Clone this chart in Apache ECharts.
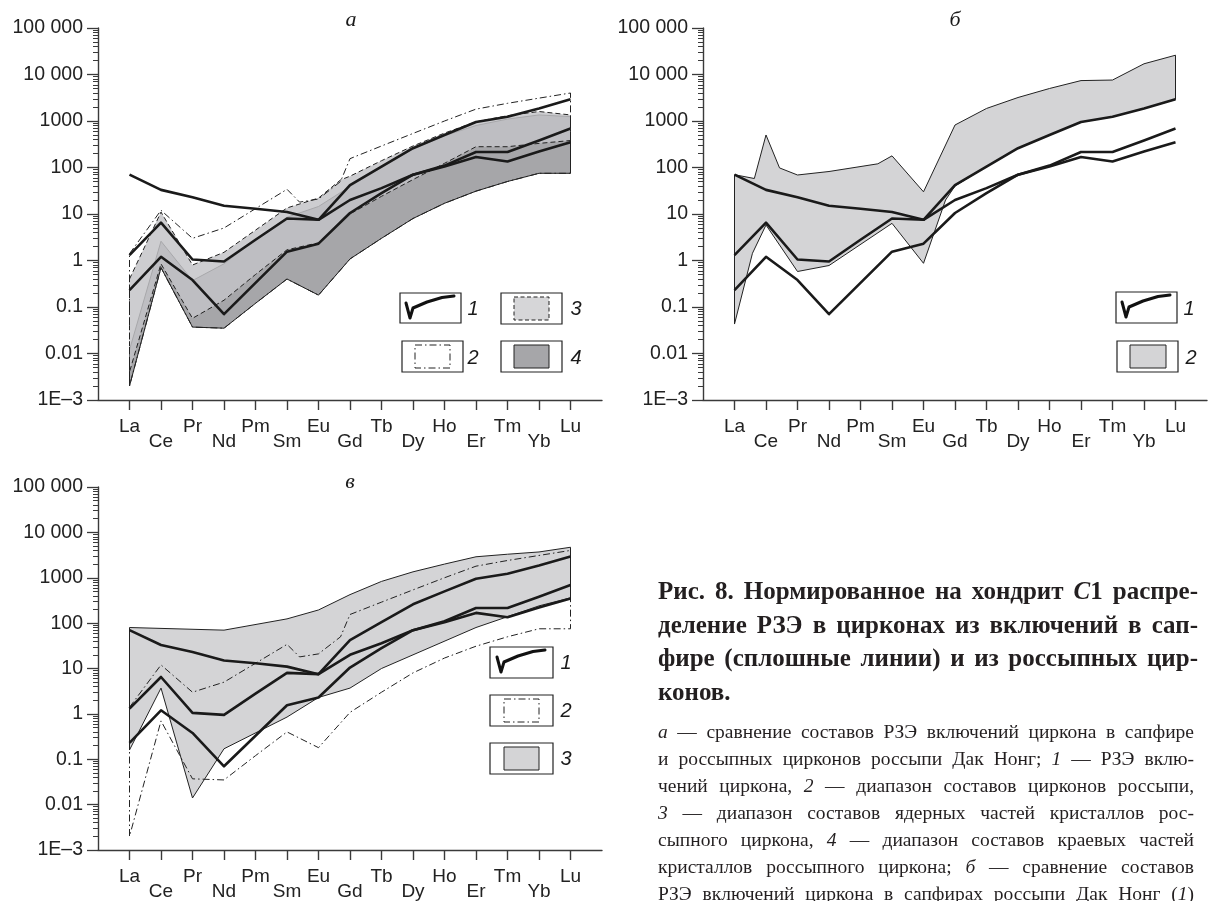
<!DOCTYPE html>
<html><head><meta charset="utf-8">
<script src="https://cdn.jsdelivr.net/npm/echarts@6/dist/echarts.min.js"></script>
<style>html,body{margin:0;padding:0;background:#fff}#c{width:1209px;height:901px}</style>
</head><body><div id="c"></div>
<script>
// ---------- DATA ----------
const elements = ['La','Ce','Pr','Nd','Pm','Sm','Eu','Gd','Tb','Dy','Ho','Er','Tm','Yb','Lu'];
const yTickValues = [0.001, 0.01, 0.1, 1, 10, 100, 1000, 10000, 100000];
const yTickLabels = ['1E–3', '0.01', '0.1', '1', '10', '100', '1000', '10 000', '100 000'];
const minorMultipliers = [2, 3, 4, 5, 6, 7, 8, 9];

// 1 — zircon inclusions in sapphire (solid lines), one value per element
const inclusion1 = [70, 33, 23, 15, 13, 11, 7.5, 42, 105, 260, 500, 950, 1230, 1860, 2950];
const inclusion2 = [1.3, 6.5, 1.05, 0.95, 2.8, 8, 7.5, 20, 36, 70, 110, 215, 215, 380, 690];
const inclusion3 = [0.23, 1.2, 0.38, 0.07, 0.33, 1.55, 2.3, 10.5, 28, 70, 105, 168, 135, 220, 350];

// ranges as [element position, value]
// placer zircons range (dash-dot)
const placerUpper = [[0,1.4],[1,12],[2,3],[3,5],[5,34],[5.4,18],[6,21],[6.7,50],[7,155],[8,290],[9,540],[10,1000],[11,1800],[12,2400],[13,3100],[14,4000]];
const placerLower = [[0,0.002],[1,0.7],[2,0.037],[3,0.035],[4,0.12],[5,0.4],[6,0.18],[7,1.08],[8,3],[9,8],[10,17],[11,31],[12,50],[13,75],[14,75]];
// panel а: cores (3, dashed light) and rims (4, dark)
const coresUpper = [[0,0.4],[1,11],[2,0.8],[3,1.5],[4,4.5],[5,13.5],[6,22],[6.7,54],[7,65],[8,140],[9,290],[10,550],[11,960],[12,1300],[13,1600],[14,1350]];
const coresLower = [[0,0.004],[1,0.85],[2,0.057],[3,0.14],[4,0.5],[5,1.7],[6,2.4],[7,10],[8,24],[9,55],[10,123],[11,280],[12,280],[13,330],[14,380]];
const rimsUpper = [[0,0.012],[1,2.6],[2,0.37],[3,0.85],[4,2.8],[5,8.5],[6,14.5],[7,39],[8,100],[9,250],[10,480],[11,800],[12,1100],[13,1350],[14,1240]];
const rimsLower = placerLower;
// panel б: placer zircons range (2)
const rangeBUpper = [[0,70],[0.63,58],[1,500],[1.43,98],[2,69],[3,82],[4.55,120],[5,178],[6,30],[7,820],[8,1860],[9,3200],[10,5000],[11,7400],[12,7600],[13,17000],[14,26000]];
const rangeBLower = [[0,0.043],[0.57,1.43],[1,5.8],[2,0.58],[3,0.78],[5,6.3],[6,0.87],[6.7,20],[7,40],[8,105],[9,260],[10,500],[11,950],[12,1230],[13,1860],[14,2900]];
// panel в: range 3 (gray)
const rangeVUpper = [[0,80],[3,70],[5,124],[6,195],[7,425],[8,830],[9,1350],[10,2000],[11,2900],[12,3300],[13,3700],[14,4700]];
const rangeVLower = [[0,0.16],[1,3.7],[2,0.014],[3,0.17],[5,0.85],[6,2.3],[7,3.7],[8,10],[9,20],[11,80],[13,240],[14,360]];

const titleLines = ['Рис. 8. Нормированное на хондрит _C_1 распре-','деление РЗЭ в цирконах из включений в сап-','фире (сплошные линии) и из россыпных цир-','конов.'];
const bodyLines = ['_а_ — сравнение составов РЗЭ включений циркона в сапфире','и россыпных цирконов россыпи Дак Нонг; _1_ — РЗЭ вклю-','чений циркона, _2_ — диапазон составов цирконов россыпи,','_3_ — диапазон составов ядерных частей кристаллов рос-','сыпного циркона, _4_ — диапазон составов краевых частей','кристаллов россыпного циркона; _б_ — сравнение составов','РЗЭ включений циркона в сапфирах россыпи Дак Нонг (_1_)'];

// ---------- LAYOUT / STYLE ----------
const AX = '#3a3a3a';
const SANS = '"Liberation Sans", Arial, sans-serif';
const SERIF = '"Liberation Serif", "Times New Roman", serif';
const grids = [
  {left: 98, top: 28, width: 504, height: 372},
  {left: 703, top: 28, width: 504, height: 372},
  {left: 98, top: 487, width: 504, height: 370}
];
const elemIdx = elements.map((e, i) => i);
const minorVals = [];
for (let e = -3; e < 5; e++) minorMultipliers.forEach(m => minorVals.push(+(m * Math.pow(10, e)).toPrecision(3)));

function yLabel(v) {
  const k = yTickValues.findIndex(t => Math.abs(Math.log10(t) - Math.log10(v)) < 1e-6);
  return k >= 0 ? yTickLabels[k] : '';
}
const xAxes = [], yAxes = [];
grids.forEach((g, i) => {
  xAxes.push({
    gridIndex: i, type: 'value', min: -1, max: 15,
    axisLine: {show: true, onZero: false, lineStyle: {color: AX, width: 1.4}},
    axisTick: {show: true, customValues: elemIdx, length: 10, lineStyle: {color: AX, width: 1.4}},
    axisLabel: {
      customValues: elemIdx, margin: 17,
      formatter: v => { const k = Math.round(v); if (k < 0 || k > 14) return ''; return (k % 2 === 0 ? '{u|' : '{d|') + elements[k] + '}'; },
      rich: {
        u: {fontSize: 19, fontFamily: SANS, color: '#222'},
        d: {fontSize: 19, fontFamily: SANS, color: '#222', padding: [15, 0, 0, 0]}
      }
    },
    splitLine: {show: false}
  });
  yAxes.push({
    gridIndex: i, type: 'log', logBase: 10, min: 0.001, max: 100000, position: 'left',
    axisLine: {show: true, onZero: false, lineStyle: {color: AX, width: 1.4}},
    axisTick: {show: true, customValues: yTickValues, length: 11, lineStyle: {color: AX, width: 1.3}},
    axisLabel: {customValues: yTickValues, formatter: yLabel, fontSize: 19.5, fontFamily: SANS, color: '#222', margin: 15},
    splitLine: {show: false}
  });
  yAxes.push({
    gridIndex: i, type: 'log', logBase: 10, min: 0.001, max: 100000, position: 'left', offset: 0,
    axisLine: {show: false, onZero: false},
    axisTick: {show: true, customValues: minorVals, length: 5, lineStyle: {color: AX, width: 1}},
    axisLabel: {show: false},
    splitLine: {show: false}
  });
});

function band(i, upper, lower, style, z) {
  return {
    type: 'custom', xAxisIndex: i, yAxisIndex: i * 2, z: z, silent: true,
    data: [[0, 1]],
    renderItem: (params, api) => {
      const pts = upper.concat(lower.slice().reverse()).map(p => api.coord(p));
      return {type: 'polygon', shape: {points: pts}, style: Object.assign({lineJoin: 'round'}, style)};
    }
  };
}
function incLine(i, vals) {
  return {
    type: 'line', xAxisIndex: i, yAxisIndex: i * 2, z: 10, silent: true,
    data: vals.map((v, k) => [k, v]), symbol: 'none',
    lineStyle: {color: '#1a1a1a', width: 2.6, join: 'round'}
  };
}
const DASHDOT = [7, 3, 1.5, 3];
const series = [];
// panel а
series.push(band(0, rimsUpper, rimsLower, {fill: '#a6a6a9', stroke: '#222', lineWidth: 1}, 1));
series.push(band(0, coresUpper, coresLower, {fill: 'rgba(195,195,198,0.83)', stroke: '#222', lineWidth: 1, lineDash: [5, 3]}, 2));
series.push(band(0, placerUpper, placerLower, {fill: 'none', stroke: '#222', lineWidth: 1, lineDash: DASHDOT}, 3));
// panel б
series.push(band(1, rangeBUpper, rangeBLower, {fill: '#d4d4d6', stroke: '#222', lineWidth: 1}, 1));
// panel в
series.push(band(2, rangeVUpper, rangeVLower, {fill: '#d4d4d6', stroke: '#222', lineWidth: 1}, 1));
series.push(band(2, placerUpper, placerLower, {fill: 'none', stroke: '#222', lineWidth: 1, lineDash: DASHDOT}, 3));
[0, 1, 2].forEach(i => [inclusion1, inclusion2, inclusion3].forEach(v => series.push(incLine(i, v))));

// ---------- GRAPHICS: panel letters, legends, caption ----------
const G = [];
function txt(x, y, text, font, align) {
  G.push({type: 'text', x: x, y: y, silent: true, style: {text: text, font: font, fill: '#1a1a1a', textAlign: align || 'center', textVerticalAlign: 'middle'}});
}
txt(351, 20, 'а', 'italic 22px ' + SERIF);
txt(955, 20, 'б', 'italic 22px ' + SERIF);
txt(350, 482, 'в', 'italic 22px ' + SERIF);

function box(x, y, w, h) { G.push({type: 'rect', silent: true, shape: {x: x, y: y, width: w, height: h}, style: {fill: '#fff', stroke: '#222', lineWidth: 1.2}}); }
function inner(x, y, w, h, fill, dash, lw) { G.push({type: 'rect', silent: true, shape: {x: x, y: y, width: w, height: h}, style: {fill: fill, stroke: '#222', lineWidth: lw || 1, lineDash: dash || null}}); }
function check(x, y) {
  G.push({type: 'polyline', silent: true, shape: {points: [[x + 6, y + 10], [x + 10, y + 25], [x + 13, y + 15], [x + 27, y + 9], [x + 42, y + 4.5], [x + 54, y + 3]]}, style: {fill: null, stroke: '#111', lineWidth: 3, lineJoin: 'round', lineCap: 'round'}});
}
const LEG = 'italic 20px ' + SANS;
// panel а legend
box(400, 293, 61, 30); check(400, 293); txt(473, 309, '1', LEG);
box(402, 341, 61, 31); inner(415, 345, 35, 23, 'none', DASHDOT); txt(473, 358, '2', LEG);
box(501, 293, 61, 31); inner(514, 297, 35, 23, '#d6d6d8', [4, 2.5]); txt(576, 309, '3', LEG);
box(501, 341, 61, 31); inner(514, 345, 35, 23, '#a6a6a9', null); txt(576, 358, '4', LEG);
// panel б legend
box(1116, 292, 61, 31); check(1116, 292); txt(1189, 309, '1', LEG);
box(1117, 341, 61, 31); inner(1130, 345, 36, 23, '#d4d4d6', null); txt(1191, 358, '2', LEG);
// panel в legend
box(490, 647, 63, 31); check(491, 647); txt(566, 663, '1', LEG);
box(490, 695, 63, 31); inner(504, 699, 35, 23, 'none', DASHDOT); txt(566, 711, '2', LEG);
box(490, 743, 63, 31); inner(504, 747, 35, 23, '#d4d4d6', null); txt(566, 759, '3', LEG);

// caption (justified)
const mctx = document.createElement('canvas').getContext('2d');
function fontStr(italic, bold, size) { return (italic ? 'italic ' : '') + (bold ? 'bold ' : '') + size + 'px ' + SERIF; }
function segs(word) { return word.split('_').map((t, i) => ({t: t, it: i % 2 === 1})).filter(s => s.t.length); }
function wWidth(sg, bold, size) { return sg.reduce((s, g) => { mctx.font = fontStr(g.it, bold, size); return s + mctx.measureText(g.t).width; }, 0); }
function line(text, x, y, width, bold, size, justify) {
  const words = text.split(' ').map(segs);
  const widths = words.map(w => wWidth(w, bold, size));
  const total = widths.reduce((a, b) => a + b, 0);
  mctx.font = fontStr(false, bold, size);
  const sp = mctx.measureText(' ').width;
  const gap = (justify && words.length > 1) ? Math.max(sp * 0.6, (width - total) / (words.length - 1)) : sp;
  let cx = x;
  words.forEach((w, i) => {
    w.forEach(g => {
      G.push({type: 'text', x: cx, y: y, silent: true, style: {text: g.t, font: fontStr(g.it, bold, size), fill: '#231f20', textAlign: 'left', textVerticalAlign: 'middle'}});
      mctx.font = fontStr(g.it, bold, size); cx += mctx.measureText(g.t).width;
    });
    cx += gap;
  });
}
const CAP_X = 658, CAP_W = 540;
titleLines.forEach((t, i) => line(t, CAP_X, 593 + i * 33.5, CAP_W, true, 25, i < titleLines.length - 1));
bodyLines.forEach((t, i) => line(t, CAP_X, 733 + i * 27, CAP_W - 4, false, 19.5, true));

const chart = echarts.init(document.getElementById('c'), null, {renderer: 'canvas', width: 1209, height: 901});
chart.setOption({
  animation: false,
  backgroundColor: '#fff',
  grid: grids.map(g => Object.assign({containLabel: false}, g)),
  xAxis: xAxes,
  yAxis: yAxes,
  series: series,
  graphic: {elements: G}
});
</script></body></html>
